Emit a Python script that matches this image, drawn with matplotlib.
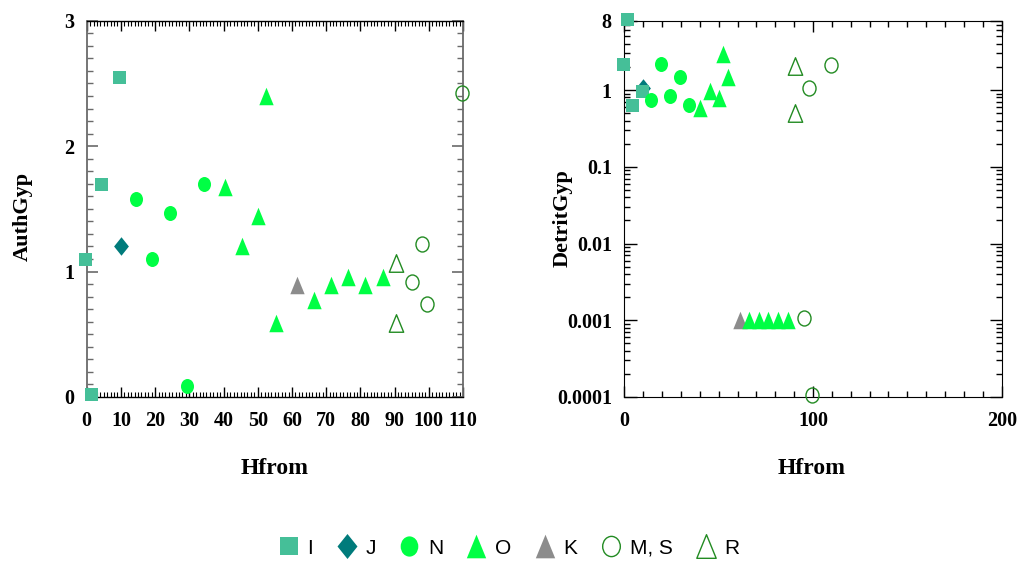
import matplotlib
matplotlib.use("Agg")
import matplotlib.pyplot as plt
import numpy as np
from matplotlib.path import Path
from matplotlib.lines import Line2D
from matplotlib.ticker import MultipleLocator, LogLocator, NullFormatter, FixedLocator, FixedFormatter

# ---------------- data ----------------
groups = ["I", "J", "N", "O", "K", "M, S", "R"]

I_x = [-0.5, 1.3, 4.2, 9.3]
I_auth = [1.10, 0.02, 1.70, 2.55]
I_detr = [2.2, 8.4, 0.63, 0.98]

J_x = [9.9]
J_auth = [1.20]
J_detr = [1.06]

N_x = [14.4, 19.2, 24.4, 29.4, 34.4]
N_auth = [1.58, 1.10, 1.465, 0.09, 1.70]
N_detr = [0.74, 2.21, 0.84, 1.49, 0.64]

O_x = [40.3, 45.5, 50.1, 52.4, 55.2, 66.3, 71.5, 76.4, 81.3, 86.6]
O_auth = [1.675, 1.20, 1.44, 2.40, 0.59, 0.77, 0.89, 0.955, 0.89, 0.955]
O_detr = [0.58, 0.98, 0.79, 2.99, 1.49, 0.001, 0.001, 0.001, 0.001, 0.001]

K_x = [61.4]
K_auth = [0.89]
K_detr = [0.001]

MS_x = [109.8, 98.0, 95.0, 99.6]
MS_auth = [2.42, 1.22, 0.915, 0.74]
MS_detr = [2.11, 1.06, 0.00108, 0.000107]

R_x = [90.5, 90.5]
R_auth = [1.065, 0.59]
R_detr = [2.07, 0.50]

left_xticks = list(range(0, 111, 10))
left_yticks = [0, 1, 2, 3]
right_xticks = [0, 100, 200]
right_yticks = [0.0001, 0.001, 0.01, 0.1, 1, 8]
right_ylabels = ["0.0001", "0.001", "0.01", "0.1", "1", "8"]

# ---------------- styles ----------------
c_I = "#45BF98"
c_J = "#007B7B"
c_N = "#00FF44"
c_K = "#8C8C8C"
c_open = "#228B22"

circ = Path.unit_circle()
ellipse = Path(circ.vertices * np.array([0.87, 1.0]), circ.codes)
tri = Path([(0, 1), (-0.82, -1), (0.82, -1), (0, 1)],
           [Path.MOVETO, Path.LINETO, Path.LINETO, Path.CLOSEPOLY])
diamond = Path([(0, 1), (0.8, 0), (0, -1), (-0.8, 0), (0, 1)],
               [Path.MOVETO, Path.LINETO, Path.LINETO, Path.LINETO, Path.CLOSEPOLY])

PT = 72 / 100.0  # px -> pt at dpi 100
styles = {
    "I": dict(marker="s", ms=13 * PT, mfc=c_I, mec=c_I, mew=0),
    "J": dict(marker=diamond, ms=18.5 * PT, mfc=c_J, mec=c_J, mew=0),
    "N": dict(marker=ellipse, ms=15 * PT, mfc=c_N, mec=c_N, mew=0),
    "O": dict(marker=tri, ms=17.5 * PT, mfc=c_N, mec=c_N, mew=0),
    "K": dict(marker=tri, ms=17.5 * PT, mfc=c_K, mec=c_K, mew=0),
    "M, S": dict(marker=ellipse, ms=15 * PT, mfc="none", mec=c_open, mew=1.0),
    "R": dict(marker=tri, ms=17.5 * PT, mfc="none", mec=c_open, mew=1.0),
}

serif = ["Liberation Serif", "DejaVu Serif"]
sans = ["Liberation Sans", "DejaVu Sans"]

fig = plt.figure(figsize=(10.18, 5.65), dpi=100)
W, H = 1018.0, 565.0
ax1 = fig.add_axes([86.7 / W, 1 - 397 / H, 376.3 / W, 376.3 / H])
ax2 = fig.add_axes([624.3 / W, 1 - 397 / H, 377.4 / W, 376.3 / H])

order = ["J", "I", "N", "K", "O", "M, S", "R"]
left_data = {"I": (I_x, I_auth), "J": (J_x, J_auth), "N": (N_x, N_auth),
             "O": (O_x, O_auth), "K": (K_x, K_auth), "M, S": (MS_x, MS_auth),
             "R": (R_x, R_auth)}
right_data = {"I": (I_x, I_detr), "J": (J_x, J_detr), "N": (N_x, N_detr),
              "O": (O_x, O_detr), "K": (K_x, K_detr), "M, S": (MS_x, MS_detr),
              "R": (R_x, R_detr)}

for g in order:
    x, y = left_data[g]
    ax1.plot(x, y, ls="none", clip_on=False, zorder=5, **styles[g])
    x, y = right_data[g]
    ax2.plot(x, y, ls="none", clip_on=False, zorder=5, **styles[g])

# ---- left axes ----
ax1.set_xlim(0, 110)
ax1.set_ylim(0, 3)
ax1.xaxis.set_major_locator(FixedLocator(left_xticks))
ax1.xaxis.set_minor_locator(MultipleLocator(1))
ax1.yaxis.set_major_locator(FixedLocator(left_yticks))
ax1.yaxis.set_minor_locator(MultipleLocator(0.1))
gray = "#6A6A6A"
for s in ("left", "right"):
    ax1.spines[s].set_color(gray)
    ax1.spines[s].set_linewidth(1.3)
for s in ("top", "bottom"):
    ax1.spines[s].set_linewidth(1.0)
ax1.tick_params(axis="x", which="both", direction="in", top=True, bottom=True, color="black")
ax1.tick_params(axis="x", which="major", length=7, width=1, pad=10)
ax1.tick_params(axis="x", which="minor", length=3.5, width=0.8)
ax1.tick_params(axis="y", which="both", direction="in", left=True, right=True, color=gray)
ax1.tick_params(axis="y", which="major", length=8, width=1.2, pad=9)
ax1.tick_params(axis="y", which="minor", length=4, width=1.0)

# ---- right axes ----
ax2.set_xlim(0, 200)
ax2.set_yscale("log")
ax2.set_ylim(0.0001, 8)
ax2.xaxis.set_major_locator(FixedLocator(right_xticks))
ax2.xaxis.set_minor_locator(MultipleLocator(10))
ax2.yaxis.set_major_locator(FixedLocator(right_yticks))
ax2.yaxis.set_major_formatter(FixedFormatter(right_ylabels))
ax2.yaxis.set_minor_locator(LogLocator(base=10, subs=np.arange(2, 10)))
ax2.yaxis.set_minor_formatter(NullFormatter())
ax2.tick_params(axis="both", which="both", direction="in", top=True, bottom=True,
                left=True, right=True, color="black")
ax2.tick_params(axis="x", which="major", length=8, width=1, pad=10)
ax2.tick_params(axis="x", which="minor", length=4, width=1)
ax2.tick_params(axis="y", which="major", length=9, width=1, pad=9)
ax2.tick_params(axis="y", which="minor", length=4, width=1)

for ax in (ax1, ax2):
    for lab in ax.get_xticklabels() + ax.get_yticklabels():
        lab.set_fontfamily(serif)
        lab.set_fontweight("bold")
        lab.set_fontsize(14.5)

ax1.set_xlabel("Hfrom", fontfamily=serif, fontweight="bold", fontsize=17)
ax1.set_ylabel("AuthGyp", fontfamily=serif, fontweight="bold", fontsize=16)
ax2.set_xlabel("Hfrom", fontfamily=serif, fontweight="bold", fontsize=17)
ax2.set_ylabel("DetritGyp", fontfamily=serif, fontweight="bold", fontsize=16)
ax1.xaxis.set_label_coords(0.499, -0.162)
ax2.xaxis.set_label_coords(0.497, -0.162)
ax1.yaxis.set_label_coords(-0.143, 0.48)
ax2.yaxis.set_label_coords(-0.136, 0.475)

# ---- legend ----
scale = 1.35
handles = []
for g in groups:
    st = dict(styles[g])
    st["ms"] = st["ms"] * scale
    handles.append(Line2D([], [], ls="none", **st))
fig.legend(handles, groups, loc="center", bbox_to_anchor=(0.5, 1 - 548 / H),
           ncol=7, frameon=False, handlelength=1.0, handletextpad=0.4,
           columnspacing=1.1, prop=dict(family=sans, size=15))

fig.savefig("out.png", dpi=100)
